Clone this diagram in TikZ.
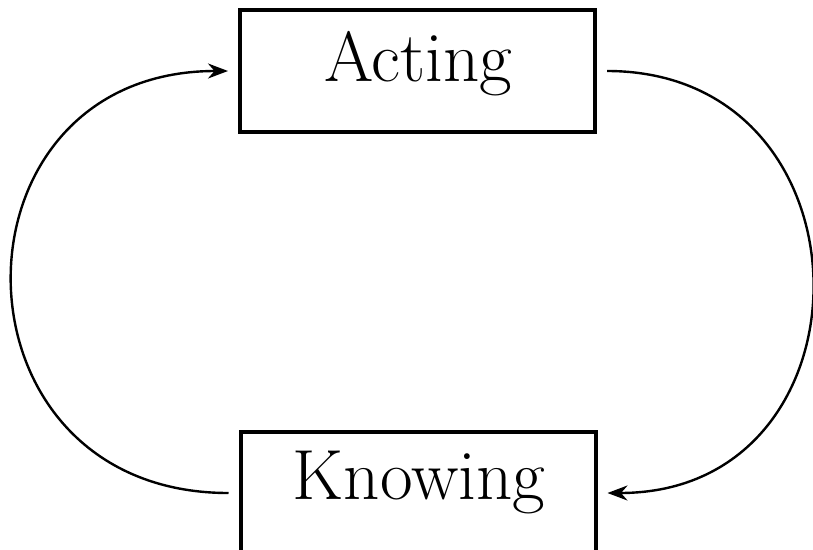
\documentclass[tikz,border=0pt]{standalone}
\usetikzlibrary{arrows.meta}
\begin{document}
\begin{tikzpicture}[x=1pt,y=-1pt,
  boxst/.style={draw,line width=4pt,minimum width=355pt,minimum height=122pt,inner sep=0pt,outer sep=0pt},
  lbl/.style={inner sep=0pt,font=\fontsize{71}{84}\selectfont},
  conn/.style={line width=2.4pt,-{Stealth[length=20pt,width=15pt]}}]
\useasboundingbox (0,0) rectangle (813,549);
\clip (0,0) rectangle (813,549);
\node[boxst] (acting) at (417.5,71) {};
\node[boxst] (knowing) at (418,493) {};
\node[lbl,anchor=base] (tacting) at (418,81) {Acting};
\node[lbl,anchor=base] (tknowing) at (419,499) {Knowing};
\draw[conn,shorten <=12pt,shorten >=12pt] (knowing.west) .. controls +(-300,0) and +(-300,0) .. (acting.west);
\draw[conn,shorten <=12pt,shorten >=12pt] (acting.east) .. controls +(285,0) and +(285,0) .. (knowing.east);
\end{tikzpicture}
\end{document}
